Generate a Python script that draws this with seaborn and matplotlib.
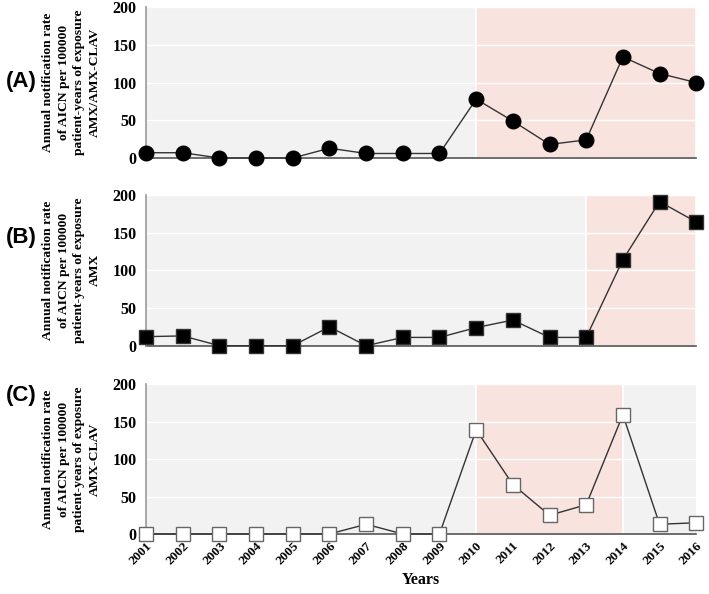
import numpy as np
import pandas as pd
import matplotlib
matplotlib.use("Agg")
import matplotlib.pyplot as plt
import seaborn as sns

sns.set_theme(style="white")
plt.rcParams['font.family'] = ['Liberation Serif', 'DejaVu Serif']
plt.rcParams['text.color'] = 'black'
plt.rcParams['axes.labelcolor'] = 'black'
plt.rcParams['xtick.color'] = 'black'
plt.rcParams['ytick.color'] = 'black'

years = list(range(2001, 2017))
rate_all = [7, 7, 0, 0, 0, 13, 6, 6, 6, 78, 49, 18, 24, 134, 112, 100]
rate_amx = [12, 13, 0, 0, 0, 25, 0, 11, 11, 24, 34, 11, 11, 114, 191, 164]
rate_clav = [0, 0, 0, 0, 0, 0, 13, 0, 0, 139, 66, 25, 39, 159, 13, 15]

panel_labels = ["(A)", "(B)", "(C)"]
drug_labels = ["AMX/AMX-CLAV", "AMX", "AMX-CLAV"]
highlight = [(2010, 2016), (2013, 2016), (2010, 2014)]
marker_styles = [("o", "black", "black", 10.5), ("s", "black", "#333333", 9.5),
                 ("s", "white", "#666666", 9.5)]

GRAY = "#f2f2f2"
PINK = "#f9e3df"

fig = plt.figure(figsize=(7.09, 5.94), dpi=100)
boxes = [(0.206, 0.734, 0.776, 0.254),
         (0.206, 0.418, 0.776, 0.254),
         (0.206, 0.101, 0.776, 0.2525)]

series = [rate_all, rate_amx, rate_clav]
for i in range(3):
    ax = fig.add_axes(boxes[i])
    df = pd.DataFrame({"year": years, "rate": series[i]})
    ax.axvspan(2001, 2016, color=GRAY, zorder=0, lw=0)
    h0, h1 = highlight[i]
    ax.axvspan(h0, h1, facecolor=PINK, edgecolor="white", lw=1.2, zorder=0.5)
    for yv in [50, 100, 150, 200]:
        ax.axhline(yv, color="white", lw=1, zorder=1)
    m, fc, ec, ms = marker_styles[i]
    sns.lineplot(data=df, x="year", y="rate", ax=ax, color="#333333", lw=1,
                 marker=m, markersize=ms, markerfacecolor=fc, markeredgecolor=ec,
                 markeredgewidth=1, clip_on=False, zorder=3)
    ax.set_xlim(2001, 2016)
    ax.set_ylim(0, 200)
    ax.set_yticks([0, 50, 100, 150, 200])
    ax.set_xticks(years)
    ax.tick_params(axis="y", length=0, pad=7, labelsize=11.5)
    for t in ax.get_yticklabels():
        t.set_fontweight("bold")
    if i == 2:
        ax.set_xticklabels([str(y) for y in years], rotation=45, ha="right",
                           rotation_mode="anchor", fontweight="bold", fontsize=9.5)
        ax.tick_params(axis="x", length=0, pad=4)
        ax.set_xlabel("Years", fontweight="bold", fontsize=11.5, labelpad=4)
    else:
        ax.set_xticklabels([])
        ax.tick_params(axis="x", length=0)
        ax.set_xlabel("")
    ax.set_ylabel("Annual notification rate\nof AICN per 100000\npatient-years of exposure\n"
                  + drug_labels[i], fontweight="bold", fontsize=9.7, linespacing=1.42,
                  labelpad=8)
    for s in ["top", "right"]:
        ax.spines[s].set_visible(False)
    ax.spines["left"].set_color("#999999")
    ax.spines["left"].set_linewidth(1.2)
    ax.spines["bottom"].set_color("#555555")
    ax.spines["bottom"].set_linewidth(1.2)
    ax.spines["bottom"].set_zorder(2)
    ax.set_facecolor("white")

label_y = [0.862, 0.600, 0.335]
for lab, yy in zip(panel_labels, label_y):
    fig.text(0.008, yy, lab, fontsize=16, fontweight="bold", color="black",
             family=["Liberation Sans", "DejaVu Sans"], va="center", ha="left")

fig.savefig("out.png", dpi=100)
